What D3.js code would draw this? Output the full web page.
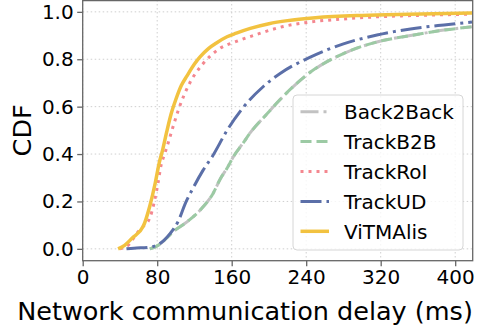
<!DOCTYPE html>
<html>
<head>
<meta charset="utf-8">
<script src="https://cdn.jsdelivr.net/npm/d3@7"></script>
<style>
  body { margin: 0; background: #fff; }
  svg { display: block; font-family: "DejaVu Sans", sans-serif; }
</style>
</head>
<body>
<div id="chart"></div>
<script>
// --- data (delay in ms, CDF) ---
const back2back = [[72,0],[78,0.008],[83,0.02],[90,0.045],[97,0.072],[112,0.114],[126,0.163],[140,0.234],[148,0.297],[155,0.34],[162,0.39],[172,0.445],[180,0.49],[198,0.57],[212,0.63],[245,0.747],[280,0.824],[316,0.873],[352,0.9],[388,0.923],[418,0.937]];
const trackB2B = [[72,0],[78,0.008],[83,0.02],[90,0.045],[97,0.072],[112,0.114],[126,0.163],[140,0.234],[148,0.297],[155,0.34],[162,0.39],[172,0.445],[180,0.49],[198,0.57],[212,0.63],[245,0.747],[280,0.824],[316,0.873],[352,0.9],[388,0.923],[418,0.937]];
const trackRoI = [[40,0],[50,0.02],[58,0.065],[65,0.095],[72,0.13],[77,0.2],[81,0.28],[84,0.35],[88,0.4],[92,0.45],[97,0.515],[104,0.6],[115,0.7],[129,0.78],[147,0.845],[165,0.875],[187,0.905],[212,0.935],[244,0.957],[280,0.97],[316,0.979],[360,0.985],[418,0.99]];
const trackUD = [[47,0],[55,0.003],[70,0.006],[80,0.016],[87,0.035],[94,0.065],[103,0.12],[110,0.19],[119,0.26],[129,0.33],[140,0.395],[155,0.5],[172,0.595],[194,0.685],[212,0.74],[245,0.81],[280,0.865],[316,0.902],[352,0.928],[388,0.945],[418,0.957]];
const vitmalis = [[38,0],[45,0.015],[53,0.045],[65,0.095],[72,0.18],[78,0.28],[82,0.36],[86,0.42],[90,0.49],[95,0.57],[100,0.63],[106,0.69],[112,0.73],[120,0.78],[126,0.81],[135,0.845],[144,0.87],[155,0.895],[165,0.91],[180,0.93],[200,0.95],[220,0.963],[250,0.975],[300,0.985],[350,0.99],[418,0.995]];

const seriesNames = ["Back2Back", "TrackB2B", "TrackRoI", "TrackUD", "ViTMAlis"];
const xTicks = [0, 80, 160, 240, 320, 400];
const yTicks = [0, 0.2, 0.4, 0.6, 0.8, 1.0];

const series = [
  { name: seriesNames[0], values: back2back, color: "#c2c2c2", width: 3, dash: "18,5,3,5" },
  { name: seriesNames[1], values: trackB2B, color: "#9ccaa4", width: 3, dash: "11,5" },
  { name: seriesNames[2], values: trackRoI, color: "#f4878f", width: 3, dash: "3,5" },
  { name: seriesNames[3], values: trackUD, color: "#5b6fa8", width: 3, dash: "21,5,3,5" },
  { name: seriesNames[4], values: vitmalis, color: "#f2c240", width: 3.5, dash: null }
];

// --- layout ---
const W = 488, H = 326;
const padL = 82.7, padR = 472.7, padT = 0, padB = 260.7;

const svg = d3.select("#chart").append("svg").attr("width", W).attr("height", H);

const x = d3.scaleLinear().domain([0, 418.8]).range([padL, padR]);
const y = d3.scaleLinear().domain([-0.05, 1.05]).range([padB, padT]);

// grid
const grid = svg.append("g").attr("stroke", "#cfcfcf").attr("stroke-width", 1).attr("stroke-dasharray", "1.5,2.5");
grid.selectAll(".gx").data(xTicks).join("line").attr("class", "gx")
  .attr("x1", d => x(d)).attr("x2", d => x(d)).attr("y1", padT).attr("y2", padB);
grid.selectAll(".gy").data(yTicks).join("line").attr("class", "gy")
  .attr("x1", padL).attr("x2", padR).attr("y1", d => y(d)).attr("y2", d => y(d));

// lines
const line = d3.line().x(d => x(d[0])).y(d => y(d[1])).curve(d3.curveMonotoneX);
svg.append("g").selectAll("path").data(series).join("path")
  .attr("d", d => line(d.values))
  .attr("fill", "none")
  .attr("stroke", d => d.color)
  .attr("stroke-width", d => d.width)
  .attr("stroke-dasharray", d => d.dash)
  .attr("stroke-linecap", "butt");

// axes
const xAxis = svg.append("g").attr("transform", `translate(0,${padB})`)
  .call(d3.axisBottom(x).tickValues(xTicks).tickSize(5.5).tickPadding(4).tickFormat(d3.format("d")));
const yAxis = svg.append("g").attr("transform", `translate(${padL},0)`)
  .call(d3.axisLeft(y).tickValues(yTicks).tickSize(5.5).tickPadding(3.5).tickFormat(d3.format(".1f")));
[xAxis, yAxis].forEach(a => {
  a.select(".domain").remove();
  a.selectAll(".tick line").attr("stroke", "#666").attr("stroke-width", 1.3);
  a.selectAll(".tick text").attr("fill", "#000").style("font-size", "20px").style("font-family", "DejaVu Sans");
});

// frame
svg.append("rect").attr("x", padL).attr("y", padT + 0.6).attr("width", padR - padL).attr("height", padB - padT - 0.6)
  .attr("fill", "none").attr("stroke", "#666").attr("stroke-width", 1.3);

// axis labels
svg.append("text").attr("x", 245).attr("y", 319.5).attr("text-anchor", "middle")
  .style("font-size", "25.5px").text("Network communication delay (ms)");
svg.append("text").attr("transform", `translate(30.5,${(padT + padB) / 2}) rotate(-90)`).attr("text-anchor", "middle")
  .style("font-size", "25.5px").text("CDF");

// legend
const lg = svg.append("g");
lg.append("rect").attr("x", 293).attr("y", 95).attr("width", 170).attr("height", 155).attr("rx", 4)
  .attr("fill", "#fff").attr("fill-opacity", 0.8).attr("stroke", "#d6d6d6").attr("stroke-width", 1);
const rows = lg.selectAll(".row").data(series).join("g").attr("class", "row")
  .attr("transform", (d, i) => `translate(0,${111.7 + i * 29.9})`);
rows.append("line").attr("x1", 300.5).attr("x2", 329).attr("y1", 0).attr("y2", 0)
  .attr("stroke", d => d.color).attr("stroke-width", d => d.width).attr("stroke-dasharray", d => d.dash);
rows.append("text").attr("x", 344).attr("y", 7.3).style("font-size", "20px").text(d => d.name);
</script>
</body>
</html>
